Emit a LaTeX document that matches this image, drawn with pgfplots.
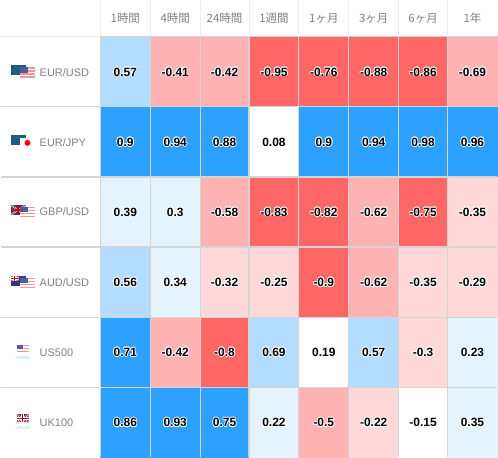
\documentclass[border=0pt]{standalone}
\usepackage{pgfplots}
\pgfplotsset{compat=1.18}
\usepackage{pgfplotstable}
\usepackage{fontspec}
\usepackage{contour}
\setmainfont{Liberation Sans}
\newfontfamily\cjk{Noto Sans CJK JP}
\contourlength{0.8pt}
\contournumber{8}
\definecolor{cA}{HTML}{FF6666}
\definecolor{cB}{HTML}{FFB3B3}
\definecolor{cC}{HTML}{FFD9D9}
\definecolor{cD}{HTML}{FFFFFF}
\definecolor{cE}{HTML}{E5F3FF}
\definecolor{cF}{HTML}{B3DCFF}
\definecolor{cG}{HTML}{2CA1FF}
\definecolor{grd}{HTML}{D4D4D4}
\definecolor{txt}{HTML}{808080}
\definecolor{eu}{HTML}{1A5A85}
\definecolor{usr}{HTML}{EE9A9A}
\definecolor{usb}{HTML}{5A5A96}
\definecolor{ukb}{HTML}{2A3A7C}
\pgfplotstableread{
x y v
125 71.5 0.57
175 71.5 -0.41
224.5 71.5 -0.42
274 71.5 -0.95
324 71.5 -0.76
374 71.5 -0.88
423.5 71.5 -0.86
473 71.5 -0.69
125 142 0.9
175 142 0.94
224.5 142 0.88
274 142 0.08
324 142 0.9
374 142 0.94
423.5 142 0.98
473 142 0.96
125 212 0.39
175 212 0.3
224.5 212 -0.58
274 212 -0.83
324 212 -0.82
374 212 -0.62
423.5 212 -0.75
473 212 -0.35
125 282.5 0.56
175 282.5 0.34
224.5 282.5 -0.32
274 282.5 -0.25
324 282.5 -0.9
374 282.5 -0.62
423.5 282.5 -0.35
473 282.5 -0.29
125 352.5 0.71
175 352.5 -0.42
224.5 352.5 -0.8
274 352.5 0.69
324 352.5 0.19
374 352.5 0.57
423.5 352.5 -0.3
473 352.5 0.23
125 423 0.86
175 423 0.93
224.5 423 0.75
274 423 0.22
324 423 -0.5
374 423 -0.22
423.5 423 -0.15
473 423 0.35
}\corr
\newcommand{\usflag}[2]{%
  \fill[white] (#1,#2) rectangle (#1+15,#2+10.5);
  \foreach \k in {0,2,4,6}{\fill[usr] (#1,#2+\k*1.5) rectangle (#1+15,#2+\k*1.5+1.5);}
  \fill[usb] (#1,#2) rectangle (#1+8,#2+5.5);}
\newcommand{\euflag}[2]{\fill[eu] (#1,#2) rectangle (#1+15,#2+10);
  \draw[green!50!black!70, line width=0.4pt, densely dotted] (#1+7,#2+5) circle[radius=3.2];}
\newcommand{\ukflag}[4]{% x y w h
  \begin{scope}
  \clip (#1,#2) rectangle (#1+#3,#2+#4);
  \fill[ukb] (#1,#2) rectangle (#1+#3,#2+#4);
  \draw[white, line width=1.5pt] (#1,#2) -- (#1+#3,#2+#4) (#1,#2+#4) -- (#1+#3,#2);
  \draw[red!70!black, line width=0.5pt] (#1,#2) -- (#1+#3,#2+#4) (#1,#2+#4) -- (#1+#3,#2);
  \draw[white, line width=2.5pt] (#1+#3/2,#2) -- (#1+#3/2,#2+#4) (#1,#2+#4/2) -- (#1+#3,#2+#4/2);
  \draw[red!80!black, line width=1.3pt] (#1+#3/2,#2) -- (#1+#3/2,#2+#4) (#1,#2+#4/2) -- (#1+#3,#2+#4/2);
  \end{scope}}
\begin{document}
\begin{tikzpicture}
\begin{axis}[
  scale only axis, width=498pt, height=458pt,
  xmin=0, xmax=498, ymin=0, ymax=458, y dir=reverse,
  hide axis, clip=false,
  point meta min=-1, point meta max=1,
  colormap access=piecewise constant,
  colormap={corr}{color=(cA) color=(cA) color=(cA) color=(cB) color=(cB) color=(cB) color=(cC) color=(cC)
    color=(cD) color=(cD) color=(cD) color=(cD) color=(cE) color=(cE) color=(cE) color=(cF) color=(cF) color=(cG) color=(cG) color=(cG)},
]
\addplot[matrix plot*, mesh/cols=8, mesh/rows=6, point meta=explicit, draw=none] table[x=x,y=y,meta=v] {\corr};
% grid
\addplot[grd, line width=1.2pt, forget plot] coordinates {(0,106.5) (498,106.5)};
\addplot[grd, line width=1.2pt, forget plot] coordinates {(0,177) (498,177)};
\addplot[grd, line width=1.2pt, forget plot] coordinates {(0,247) (498,247)};
\addplot[grd, line width=1.2pt, forget plot] coordinates {(0,317.5) (498,317.5)};
\addplot[grd, line width=1.2pt, forget plot] coordinates {(0,388) (498,388)};
\addplot[grd!40!white, line width=1pt, forget plot] coordinates {(100,0) (100,36)};
\addplot[grd!40!white, line width=1pt, forget plot] coordinates {(150,0) (150,36)};
\addplot[grd!40!white, line width=1pt, forget plot] coordinates {(200,0) (200,36)};
\addplot[grd!40!white, line width=1pt, forget plot] coordinates {(249,0) (249,36)};
\addplot[grd!40!white, line width=1pt, forget plot] coordinates {(299,0) (299,36)};
\addplot[grd!40!white, line width=1pt, forget plot] coordinates {(349,0) (349,36)};
\addplot[grd!40!white, line width=1pt, forget plot] coordinates {(399,0) (399,36)};
\addplot[grd!40!white, line width=1pt, forget plot] coordinates {(448,0) (448,36)};
\addplot[grd, line width=1.2pt, forget plot] coordinates {(100,36) (498,36)};
\addplot[grd!40!white, line width=1pt, forget plot] coordinates {(0,36) (100,36)};
\addplot[grd, line width=1.1pt, forget plot] coordinates {(100,36) (100,458)};
\addplot[grd, line width=1.1pt, forget plot] coordinates {(150,36) (150,458)};
\addplot[grd, line width=1.1pt, forget plot] coordinates {(200,36) (200,458)};
\addplot[grd, line width=1.1pt, forget plot] coordinates {(249,36) (249,458)};
\addplot[grd, line width=1.1pt, forget plot] coordinates {(299,36) (299,458)};
\addplot[grd, line width=1.1pt, forget plot] coordinates {(349,36) (349,458)};
\addplot[grd, line width=1.1pt, forget plot] coordinates {(399,36) (399,458)};
\addplot[grd, line width=1.1pt, forget plot] coordinates {(448,36) (448,458)};
% values
\addplot[only marks, mark=none, point meta=explicit symbolic,
  nodes near coords={\contour{white}{\pgfplotspointmeta}},
  every node near coord/.style={anchor=center, inner sep=0pt, text=black, yshift=-0.5pt,
    font=\fontsize{12}{14}\selectfont\bfseries}]
  table[x=x,y=y,meta=v] {\corr};
\end{axis}
\begin{scope}[x=1pt, y=-1pt, yshift=458pt]
\foreach \xx/\tt in {125/1時間,175/4時間,224.5/24時間,274/1週間,324/1ヶ月,374/3ヶ月,423.5/6ヶ月,473/1年}{
  \node[font=\fontsize{11.5}{14}\selectfont\cjk, text=txt] at (\xx,18) {\tt};
}
\foreach \yy/\tt in {72/EUR\slash USD,142/EUR\slash JPY,212/GBP\slash USD,283/AUD\slash USD,353/US500,423.5/UK100}{
  \node[anchor=west, inner sep=0pt, font=\fontsize{11}{13}\selectfont, text=txt] at (39,\yy) {\tt};
}
\euflag{10}{65}\usflag{19}{67}
\euflag{10}{135}\fill[white] (19,138) rectangle (34,148);\fill[red] (27,142.7) circle[radius=3];
\ukflag{10}{205}{15}{10}\usflag{19}{207}
\fill[ukb] (10,276) rectangle (25,286);
\ukflag{10}{276}{8}{5}
\fill[white] (21,282) circle[radius=0.5];
\usflag{19}{278}
\fill[white] (16,345) rectangle (28,353);
\foreach \k in {0,2,4}{\fill[usr] (16,345+\k*1.5) rectangle (28,345+\k*1.5+1.5);}
\fill[usb] (16,345) rectangle (22,349.5);
\ukflag{16}{415}{12}{8}
\node[font=\fontsize{4.5}{5}\selectfont, text=cyan!45] at (22,358) {US500};
\node[font=\fontsize{4.5}{5}\selectfont, text=cyan!45] at (22,428) {UK100};
\end{scope}
\end{tikzpicture}
\end{document}
